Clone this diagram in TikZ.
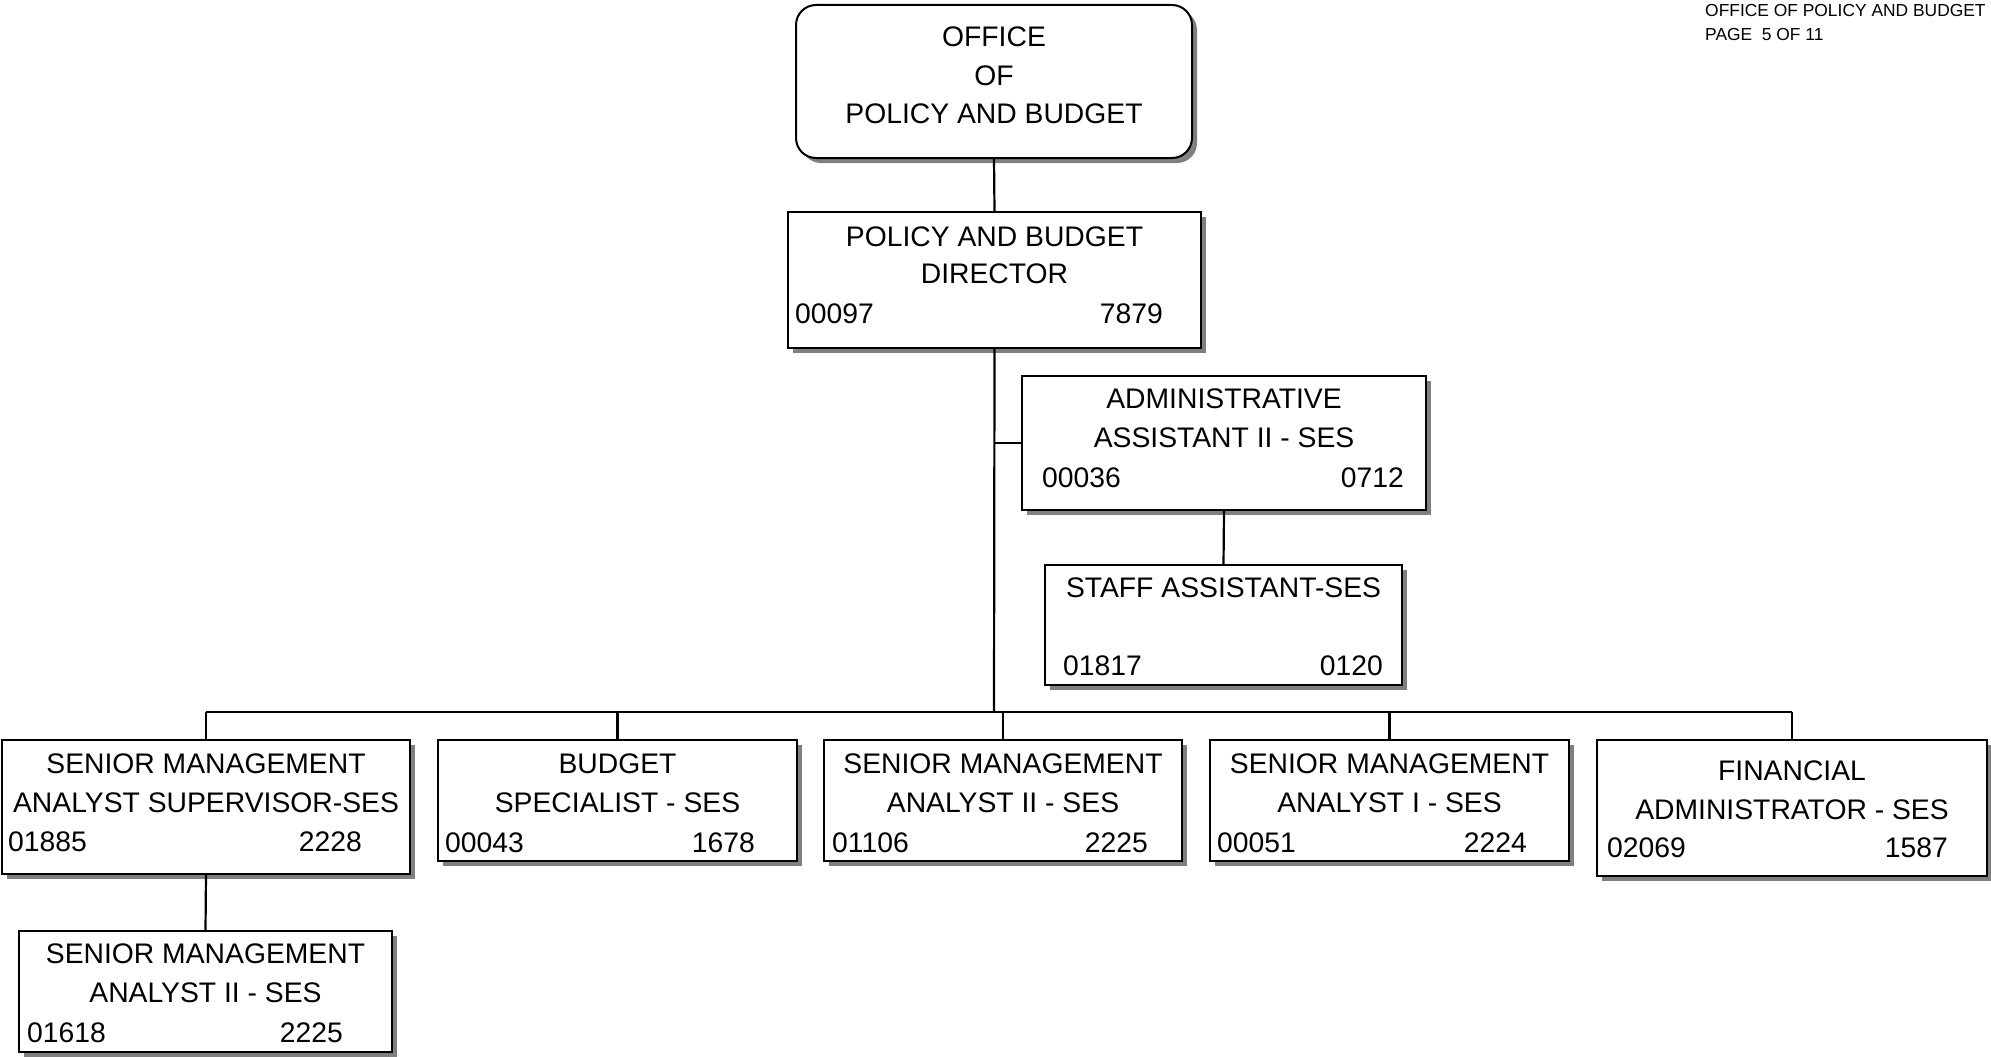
\documentclass[tikz,border=0pt]{standalone}
\usepackage{fontspec}
\setmainfont{Liberation Sans}
\usetikzlibrary{shadows}
\begin{document}
\begin{tikzpicture}[x=1pt,y=-1pt,
  posbox/.style={draw=black, line width=2pt, fill=white, rectangle,
    anchor=north west, inner sep=0pt, outer sep=0pt,
    drop shadow={shadow xshift=5pt, shadow yshift=-5pt, fill=black!50, opacity=1}},
  link/.style={line width=2.2pt},
  ttl/.style={font=\fontsize{28.3}{34}\selectfont, inner sep=0pt, anchor=base},
  lnum/.style={ttl, anchor=base west},
  rnum/.style={ttl, anchor=base east},
  hdr/.style={font=\fontsize{17.4}{20}\selectfont, inner sep=0pt, anchor=base west}]

\useasboundingbox (0,0) rectangle (1991,1057);

% page header
\node[hdr] (hdr1) at (1705,16.5) {OFFICE OF POLICY AND BUDGET};
\node[hdr] (hdr2) at (1705,40.5) {PAGE\ \ 5 OF 11};

% boxes
\node[posbox, rounded corners=20pt, minimum width=396pt, minimum height=153pt] (office) at (796,5) {};
\node[posbox, minimum width=413pt, minimum height=136pt] (dir) at (788,212) {};
\node[posbox, minimum width=404pt, minimum height=134pt] (adm) at (1022,376) {};
\node[posbox, minimum width=357pt, minimum height=120pt] (staff) at (1045,565) {};
\node[posbox, minimum width=408pt, minimum height=134pt] (sup) at (2,740) {};
\node[posbox, minimum width=373pt, minimum height=121pt] (sub) at (19,931) {};
\node[posbox, minimum width=359pt, minimum height=121pt] (bud) at (438,740) {};
\node[posbox, minimum width=358pt, minimum height=121pt] (sma) at (824,740) {};
\node[posbox, minimum width=359pt, minimum height=121pt] (smb) at (1210,740) {};
\node[posbox, minimum width=390pt, minimum height=136pt] (fin) at (1597,740) {};

% connectors
\coordinate (bus) at (994,712);
\draw[link] (office.south) -- (dir.north);
\draw[link] (dir.south) -- (bus);
\draw[link] (dir.south |- adm.west) -- (adm.west);
\draw[link] (adm.south) -- (staff.north);
\draw[link] (sup.north |- bus) -- (fin.north |- bus);
\draw[link] (sup.north |- bus) -- (sup.north);
\draw[link] (bud.north |- bus) -- (bud.north);
\draw[link] (sma.north |- bus) -- (sma.north);
\draw[link] (smb.north |- bus) -- (smb.north);
\draw[link] (fin.north |- bus) -- (fin.north);
\draw[link] (sup.south) -- (sub.north);

% office
\node[ttl] (office-1) at (994,47) {OFFICE};
\node[ttl] (office-2) at (994,85) {OF};
\node[ttl] (office-3) at (994,123) {POLICY AND BUDGET};

% director
\node[ttl] (dir-1) at (994.5,246) {POLICY AND BUDGET};
\node[ttl] (dir-2) at (994.5,283) {DIRECTOR};
\node[lnum] (dir-p) at (795,323) {00097};
\node[rnum] (dir-c) at (1163,323) {7879};

% administrative assistant
\node[ttl] (adm-1) at (1224,408) {ADMINISTRATIVE};
\node[ttl] (adm-2) at (1224,447) {ASSISTANT II - SES};
\node[lnum] (adm-p) at (1042,487) {00036};
\node[rnum] (adm-c) at (1404,487) {0712};

% staff assistant
\node[ttl] (staff-1) at (1223.5,597) {STAFF ASSISTANT-SES};
\node[lnum] (staff-p) at (1063,675) {01817};
\node[rnum] (staff-c) at (1383,675) {0120};

% analyst supervisor
\node[ttl] (sup-1) at (206,773) {SENIOR MANAGEMENT};
\node[ttl] (sup-2) at (206,812) {ANALYST SUPERVISOR-SES};
\node[lnum] (sup-p) at (8,851) {01885};
\node[rnum] (sup-c) at (362,851) {2228};

% analyst II under supervisor
\node[ttl] (sub-1) at (205.5,963) {SENIOR MANAGEMENT};
\node[ttl] (sub-2) at (205.5,1002) {ANALYST II - SES};
\node[lnum] (sub-p) at (27,1042) {01618};
\node[rnum] (sub-c) at (343,1042) {2225};

% budget specialist
\node[ttl] (bud-1) at (617.5,773) {BUDGET};
\node[ttl] (bud-2) at (617.5,812) {SPECIALIST - SES};
\node[lnum] (bud-p) at (445,852) {00043};
\node[rnum] (bud-c) at (755,852) {1678};

% analyst II
\node[ttl] (sma-1) at (1003,773) {SENIOR MANAGEMENT};
\node[ttl] (sma-2) at (1003,812) {ANALYST II - SES};
\node[lnum] (sma-p) at (832,852) {01106};
\node[rnum] (sma-c) at (1148,852) {2225};

% analyst I
\node[ttl] (smb-1) at (1389.5,773) {SENIOR MANAGEMENT};
\node[ttl] (smb-2) at (1389.5,812) {ANALYST I - SES};
\node[lnum] (smb-p) at (1217,852) {00051};
\node[rnum] (smb-c) at (1527,852) {2224};

% financial administrator
\node[ttl] (fin-1) at (1792,780) {FINANCIAL};
\node[ttl] (fin-2) at (1792,819) {ADMINISTRATOR - SES};
\node[lnum] (fin-p) at (1607,857) {02069};
\node[rnum] (fin-c) at (1948,857) {1587};

\end{tikzpicture}
\end{document}
